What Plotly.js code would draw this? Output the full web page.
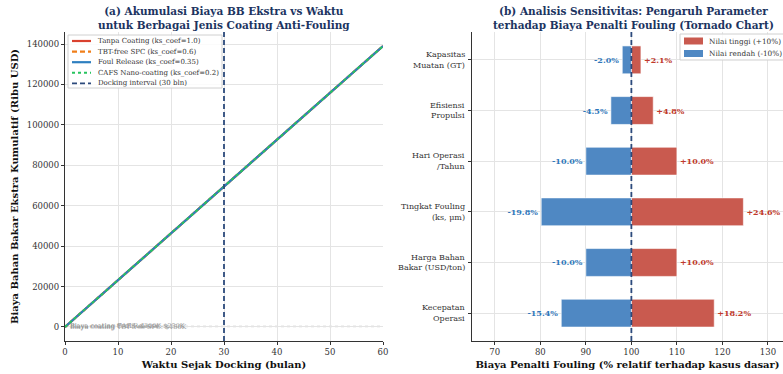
<!DOCTYPE html>
<html>
<head>
<meta charset="utf-8">
<script src="https://cdn.plot.ly/plotly-3.0.1.min.js"></script>
<style>
  html, body { margin: 0; padding: 0; background: #ffffff; }
  #chart { width: 783px; height: 374px; }
</style>
</head>
<body>
<div id="chart"></div>
<script>
// ---------- (a) cumulative extra fuel cost per coating type ----------
const months = [0, 10, 20, 30, 40, 50, 60];
const costTanpaCoating = [0, 23200, 46300, 69500, 92700, 115800, 139000];
const costTbtFreeSpc   = [0, 23200, 46300, 69500, 92700, 115800, 139000];
const costFoulRelease  = [0, 23200, 46300, 69500, 92700, 115800, 139000];
const costCafsNano     = [0, 23200, 46300, 69500, 92700, 115800, 139000];
const coatingNames = [
  'Tanpa Coating (ks_coef=1.0)',
  'TBT-free SPC (ks_coef=0.6)',
  'Foul Release (ks_coef=0.35)',
  'CAFS Nano-coating (ks_coef=0.2)'
];
const dockingInterval = 30;
const dockingName = 'Docking interval (30 bln)';
const coatingCostLabels = ['Biaya coating TBT-free SPC: $150K', 'Biaya coating Foul Release: $250K', 'Biaya coating CAFS: $300K'];
const coatingCostValues = [150, 250, 300];

// ---------- (b) tornado sensitivity ----------
const params = [
  'Kapasitas<br>Muatan (GT)',
  'Efisiensi<br>Propulsi',
  'Hari Operasi<br>/Tahun',
  'Tingkat Fouling<br>(ks, μm)',
  'Harga Bahan<br>Bakar (USD/ton)',
  'Kecepatan<br>Operasi'
];
const lowChange  = [-2.0, -4.5, -10.0, -19.8, -10.0, -15.4];
const highChange = [2.1, 4.8, 10.0, 24.6, 10.0, 18.2];
const baseCase = 100;
const tornadoNames = ['Nilai tinggi (+10%)', 'Nilai rendah (-10%)'];

// ---------- styling ----------
const W = 783, H = 374;
const px = v => v / W;
const py = v => 1 - v / H;
const SERIF = 'DejaVu Serif, Liberation Serif, serif';
const lineStyles = [
  {color: '#d9412f', width: 2.2, dash: 'solid'},
  {color: '#f07f1a', width: 2.2, dash: '5px,3px'},
  {color: '#2e7fc0', width: 2.2, dash: 'solid'},
  {color: '#27c45f', width: 2.0, dash: 'dot'}
];
const costSeries = [costTanpaCoating, costTbtFreeSpc, costFoulRelease, costCafsNano];
const navy = '#2c4a7c';
const redBar = '#c95a4f', blueBar = '#4f88c3';
const redText = '#c0392b', blueText = '#2f78bb';

const traces = [];
costSeries.forEach((ys, i) => {
  traces.push({
    type: 'scatter', mode: 'lines', x: months, y: ys,
    name: coatingNames[i], line: lineStyles[i],
    xaxis: 'x', yaxis: 'y', showlegend: false, hoverinfo: 'skip'
  });
});

// tornado bars
const barCommon = {
  type: 'bar', orientation: 'h', y: params, base: baseCase, width: 0.55,
  xaxis: 'x2', yaxis: 'y2', showlegend: false, textposition: 'outside',
  constraintext: 'none', cliponaxis: false, hoverinfo: 'skip'
};
traces.push(Object.assign({}, barCommon, {
  x: highChange, name: tornadoNames[0],
  marker: {color: redBar, line: {color: '#ffffff', width: 0.6}},
  texttemplate: '+%{x:.1f}%',
  textfont: {family: SERIF, size: 8, color: redText, weight: 'bold'}
}));
traces.push(Object.assign({}, barCommon, {
  x: lowChange, name: tornadoNames[1],
  marker: {color: blueBar, line: {color: '#ffffff', width: 0.6}},
  texttemplate: '%{x:.1f}%',
  textfont: {family: SERIF, size: 8, color: blueText, weight: 'bold'}
}));

const tickFont = {family: SERIF, size: 8.5, color: '#333333'};
const axisTitleFont = {family: SERIF, size: 10, color: '#111111', weight: 'bold'};
const axisCommon = {
  showgrid: true, gridcolor: '#e4e4e4', gridwidth: 1,
  showline: true, linecolor: '#333333', linewidth: 1.2,
  ticks: 'outside', ticklen: 3, tickcolor: '#333333',
  tickfont: tickFont, zeroline: false
};

const shapes = [];
const annotations = [];

// docking interval and base-case reference lines
shapes.push({type: 'line', xref: 'x', yref: 'y domain', x0: dockingInterval, x1: dockingInterval, y0: 0, y1: 1,
  line: {color: navy, width: 1.8, dash: '5px,3px'}, layer: 'above'});
shapes.push({type: 'line', xref: 'x2', yref: 'y2 domain', x0: baseCase, x1: baseCase, y0: 0, y1: 1,
  line: {color: navy, width: 1.8, dash: '5px,3px'}, layer: 'above'});

// coating cost reference lines with labels
coatingCostValues.forEach((v, i) => {
  shapes.push({type: 'line', xref: 'x domain', yref: 'y', x0: 0, x1: 1, y0: v, y1: v,
    line: {color: '#b5b5b5', width: 1, dash: 'dot'}, layer: 'below'});
  annotations.push({xref: 'x', yref: 'y', x: 0.5, y: v, text: coatingCostLabels[i],
    showarrow: false, xanchor: 'left', yanchor: 'middle',
    font: {family: SERIF, size: 6.5, color: '#9a9a9a'}});
});

// category labels of the tornado chart: each line right-aligned next to the axis
params.forEach(p => {
  const lines = p.split('<br>');
  lines.forEach((ln, j) => {
    annotations.push({xref: 'paper', yref: 'y2', x: px(467), y: p, xanchor: 'right', yanchor: 'middle',
      yshift: ((lines.length - 1) / 2 - j) * 10.5, text: ln, showarrow: false,
      font: {family: SERIF, size: 8, color: '#333333'}});
  });
});

// titles
annotations.push({xref: 'paper', yref: 'paper', x: px(224), y: py(3), xanchor: 'center', yanchor: 'top',
  text: '(a) Akumulasi Biaya BB Ekstra vs Waktu<br>untuk Berbagai Jenis Coating Anti-Fouling',
  showarrow: false, font: {family: SERIF, size: 10.5, color: '#1c3461', weight: 'bold'}});
annotations.push({xref: 'paper', yref: 'paper', x: px(633), y: py(3), xanchor: 'center', yanchor: 'top',
  text: '(b) Analisis Sensitivitas: Pengaruh Parameter<br>terhadap Biaya Penalti Fouling (Tornado Chart)',
  showarrow: false, font: {family: SERIF, size: 10.5, color: '#1c3461', weight: 'bold'}});

// legend for (a)
const legA = {x0: 68, y0: 35, x1: 222, y1: 88};
shapes.push({type: 'rect', xref: 'paper', yref: 'paper', x0: px(legA.x0), x1: px(legA.x1), y0: py(legA.y1), y1: py(legA.y0),
  line: {color: '#d0d0d0', width: 1}, fillcolor: 'rgba(255,255,255,0.85)', layer: 'above'});
const legAItems = coatingNames.map((n, i) => ({name: n, style: lineStyles[i]}))
  .concat([{name: dockingName, style: {color: navy, width: 1.8, dash: '5px,3px'}}]);
legAItems.forEach((it, i) => {
  const yy = 41 + i * 10.6;
  shapes.push({type: 'line', xref: 'paper', yref: 'paper', x0: px(72), x1: px(91), y0: py(yy), y1: py(yy),
    line: {color: it.style.color, width: it.style.width, dash: it.style.dash}, layer: 'above'});
  annotations.push({xref: 'paper', yref: 'paper', x: px(96), y: py(yy), xanchor: 'left', yanchor: 'middle',
    text: it.name, showarrow: false, font: {family: SERIF, size: 7, color: '#333333'}});
});

// legend for (b)
shapes.push({type: 'rect', xref: 'paper', yref: 'paper', x0: px(680), x1: px(790), y0: py(60), y1: py(34),
  line: {color: '#d0d0d0', width: 1}, fillcolor: 'rgba(255,255,255,0.85)', layer: 'above'});
[[redBar, tornadoNames[0]], [blueBar, tornadoNames[1]]].forEach((it, i) => {
  const yy = 41 + i * 12.5;
  shapes.push({type: 'rect', xref: 'paper', yref: 'paper', x0: px(684), x1: px(703), y0: py(yy + 3.5), y1: py(yy - 3.5),
    line: {width: 0}, fillcolor: it[0], layer: 'above'});
  annotations.push({xref: 'paper', yref: 'paper', x: px(707), y: py(yy), xanchor: 'left', yanchor: 'middle',
    text: it[1], showarrow: false, font: {family: SERIF, size: 7.3, color: '#333333'}});
});

const layout = {
  width: W, height: H,
  margin: {l: 0, r: 0, t: 0, b: 0, pad: 0},
  paper_bgcolor: '#ffffff', plot_bgcolor: '#ffffff',
  showlegend: false,
  barmode: 'overlay',
  font: {family: SERIF},
  xaxis: Object.assign({}, axisCommon, {
    domain: [px(65), px(383)], range: [0, 60], dtick: 10, anchor: 'y',
    title: {text: 'Waktu Sejak Docking (bulan)', font: axisTitleFont, standoff: 4}
  }),
  yaxis: Object.assign({}, axisCommon, {
    domain: [py(341), py(32)], range: [-6950, 145950], dtick: 20000, anchor: 'x',
    tickformat: 'd',
    title: {text: 'Biaya Bahan Bakar Ekstra Kumulatif (Ribu USD)', font: axisTitleFont, standoff: 6}
  }),
  xaxis2: Object.assign({}, axisCommon, {
    domain: [px(472), 1], range: [65, 133.3], tickvals: [70, 80, 90, 100, 110, 120, 130], anchor: 'y2',
    title: {text: 'Biaya Penalti Fouling (% relatif terhadap kasus dasar)', font: axisTitleFont, standoff: 4}
  }),
  yaxis2: Object.assign({}, axisCommon, {
    domain: [py(341), py(32)], type: 'category', range: [5.55, -0.55], anchor: 'x2',
    showticklabels: false
  }),
  shapes: shapes,
  annotations: annotations
};

Plotly.newPlot('chart', traces, layout, {displayModeBar: false, responsive: false});
</script>
</body>
</html>
